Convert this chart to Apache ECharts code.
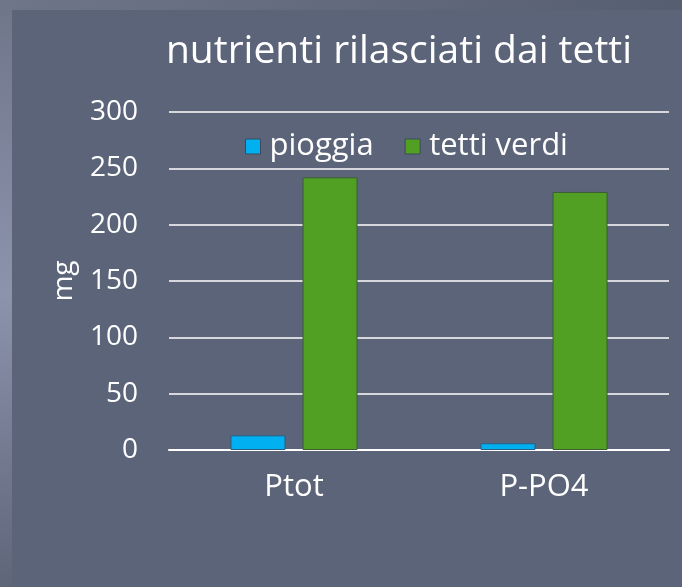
<!DOCTYPE html>
<html>
<head>
<meta charset="utf-8">
<script src="https://cdn.jsdelivr.net/npm/echarts@6/dist/echarts.min.js"></script>
<style>
  html, body { margin: 0; padding: 0; background: #5b6478; }
  #chart { width: 682px; height: 587px; }
</style>
</head>
<body>
<div id="chart"></div>
<script>
const categories = ['Ptot', 'P-PO4'];
const pioggia = [13, 6];
const tettiVerdi = [242, 229];
const yTicks = [0, 50, 100, 150, 200, 250, 300];

const FONT = 'Open Sans';
const chart = echarts.init(document.getElementById('chart'), null, { renderer: 'canvas' });

chart.setOption({
  backgroundColor: '#5b6478',
  animation: false,
  graphic: [
    {
      // outer frame: soft lighter band behind the panel
      type: 'rect', z: -10, silent: true,
      shape: { x: 0, y: 0, width: 682, height: 587 },
      style: {
        fill: {
          type: 'linear', x: 0, y: 0, x2: 0, y2: 1,
          colorStops: [
            { offset: 0, color: '#6f7589' },
            { offset: 0.5, color: '#8c93ad' },
            { offset: 1, color: '#5f6579' }
          ]
        }
      }
    },
    {
      type: 'rect', z: -10, silent: true,
      shape: { x: 12, y: 0, width: 670, height: 10 },
      style: {
        fill: {
          type: 'linear', x: 0, y: 0, x2: 1, y2: 0,
          colorStops: [
            { offset: 0, color: '#6f7589' },
            { offset: 1, color: '#565e71' }
          ]
        }
      }
    },
    {
      // main panel
      type: 'rect', z: -9, silent: true,
      shape: { x: 12, y: 10, width: 670, height: 577 },
      style: { fill: '#5b6478' }
    }
  ],
  title: {
    text: 'nutrienti rilasciati dai tetti',
    left: 394, top: 27, textAlign: 'center',
    textStyle: { color: '#ffffff', fontFamily: FONT, fontSize: 39, fontWeight: 'normal' }
  },
  legend: {
    top: 126, left: 240,
    itemWidth: 15, itemHeight: 15, itemGap: 31,
    icon: 'rect',
    itemStyle: { borderColor: '#3c4a5c', borderWidth: 1 },
    textStyle: { color: '#ffffff', fontFamily: FONT, fontSize: 31, padding: [0, 0, 0, 4] },
    data: ['pioggia', 'tetti verdi']
  },
  grid: { left: 169, right: 13, top: 112, bottom: 137, containLabel: false },
  xAxis: {
    type: 'category',
    data: categories,
    axisLine: { lineStyle: { color: '#ffffff', width: 2 } },
    axisTick: { show: false },
    axisLabel: { color: '#ffffff', fontFamily: FONT, fontSize: 31, margin: 22 }
  },
  yAxis: {
    type: 'value',
    min: yTicks[0], max: yTicks[yTicks.length - 1], interval: 50,
    name: 'mg',
    nameLocation: 'middle', nameGap: 91, nameRotate: 90,
    nameTextStyle: { color: '#ffffff', fontFamily: FONT, fontSize: 28 },
    axisLine: { show: false },
    axisTick: { show: false },
    axisLabel: { color: '#ffffff', fontFamily: FONT, fontSize: 28, margin: 31 },
    splitLine: { lineStyle: { color: '#ffffff', width: 1.5 } }
  },
  series: [
    {
      name: 'pioggia', type: 'bar', data: pioggia,
      barWidth: 55, barGap: '31%',
      itemStyle: { color: '#00b0f0', borderColor: '#2a5f86', borderWidth: 1 }
    },
    {
      name: 'tetti verdi', type: 'bar', data: tettiVerdi,
      barWidth: 55,
      itemStyle: { color: '#52a023', borderColor: '#3b5e34', borderWidth: 1 }
    }
  ]
});
</script>
</body>
</html>
